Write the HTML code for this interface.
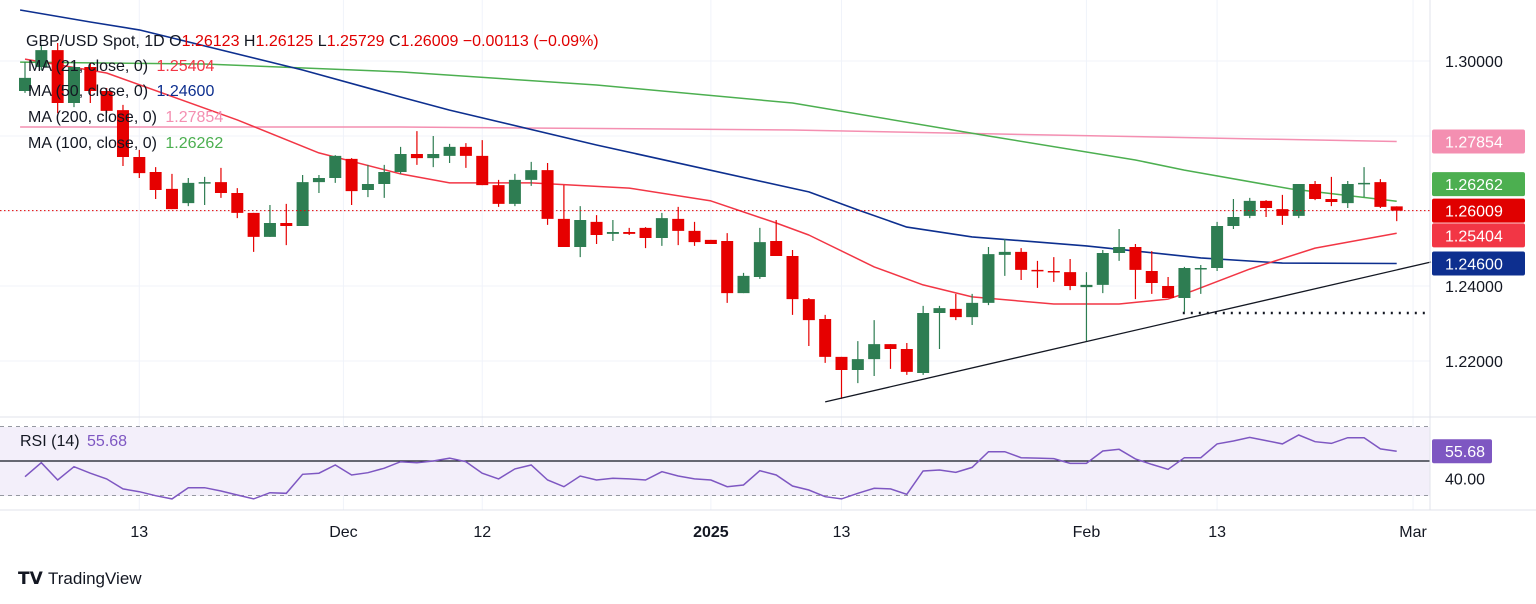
<!DOCTYPE html>
<html><head><meta charset="utf-8"><style>
html,body{margin:0;padding:0;background:#fff;}
svg{display:block;font-family:"Liberation Sans",sans-serif;}
</style></head><body>
<svg id="chart" width="1536" height="604" viewBox="0 0 1536 604">
<g id="grid"></g>
<rect x="0" y="427" width="1430" height="69" fill="#f3effa"/>
<g id="ma"></g>
<g id="candles"></g>
<g id="draw"></g>
<g id="rsi"></g>
<g id="axis"></g>
<g font-size="16">
<text x="26" y="46" fill="#131722">GBP/USD Spot, 1D <tspan fill="#131722">O</tspan><tspan fill="#e00000">1.26123</tspan> <tspan fill="#131722">H</tspan><tspan fill="#e00000">1.26125</tspan> <tspan fill="#131722">L</tspan><tspan fill="#e00000">1.25729</tspan> <tspan fill="#131722">C</tspan><tspan fill="#e00000">1.26009 −0.00113 (−0.09%)</tspan></text>
<text x="28" y="71" fill="#131722">MA (21, close, 0) <tspan fill="#f23645" dx="4">1.25404</tspan></text>
<text x="28" y="96" fill="#131722">MA (50, close, 0) <tspan fill="#0d2f8f" dx="4">1.24600</tspan></text>
<text x="28" y="122" fill="#131722">MA (200, close, 0) <tspan fill="#f48fb1" dx="4">1.27854</tspan></text>
<text x="28" y="148" fill="#131722">MA (100, close, 0) <tspan fill="#4caf50" dx="4">1.26262</tspan></text>
<text x="20" y="446" fill="#131722">RSI (14) <tspan fill="#7e57c2" dx="3">55.68</tspan></text>
</g>
<g>
<text x="18" y="584" font-size="17" font-weight="bold" fill="#131722">𝗧𝗩</text>
<text x="48" y="584" font-size="17" fill="#131722">TradingView</text>
</g>
</svg>
<script>
const opens=[1.2920,1.2984,1.3029,1.2888,1.2984,1.2920,1.2869,1.2744,1.2704,1.2659,1.2621,1.2675,1.2677,1.2648,1.2595,1.2531,1.2568,1.2560,1.2677,1.2688,1.2739,1.2656,1.2672,1.2704,1.2752,1.2741,1.2747,1.2771,1.2747,1.2669,1.2619,1.2683,1.2709,1.2579,1.2504,1.2571,1.2539,1.2544,1.2555,1.2528,1.2579,1.2547,1.2523,1.2520,1.2381,1.2424,1.2520,1.2480,1.2365,1.2312,1.2211,1.2176,1.2205,1.2245,1.2232,1.2168,1.2328,1.2339,1.2317,1.2355,1.2483,1.2491,1.2443,1.2440,1.2437,1.2397,1.2403,1.2488,1.2504,1.2440,1.2400,1.2368,1.2445,1.2448,1.2560,1.2587,1.2627,1.2605,1.2587,1.2672,1.2632,1.2621,1.2672,1.2677,1.26123];
const highs=[1.2997,1.3040,1.3048,1.2997,1.2995,1.2928,1.2883,1.2763,1.2717,1.2699,1.2688,1.2691,1.2715,1.2661,1.2595,1.2616,1.2619,1.2696,1.2696,1.2749,1.2741,1.2723,1.2723,1.2771,1.2813,1.2800,1.2779,1.2781,1.2789,1.2683,1.2699,1.2731,1.2728,1.2669,1.2613,1.2589,1.2576,1.2555,1.2557,1.2595,1.2611,1.2571,1.2523,1.2541,1.2435,1.2555,1.2576,1.2496,1.2368,1.2323,1.2211,1.2253,1.2309,1.2245,1.2248,1.2347,1.2347,1.2379,1.2379,1.2504,1.2525,1.2501,1.2467,1.2477,1.2472,1.2437,1.2496,1.2552,1.2512,1.2493,1.2424,1.2451,1.2456,1.2571,1.2632,1.2635,1.2629,1.2643,1.2672,1.2680,1.2691,1.2680,1.2717,1.2685,1.26125];
const lows=[1.2915,1.2976,1.2861,1.2877,1.2888,1.2861,1.2720,1.2688,1.2632,1.2605,1.2613,1.2616,1.2635,1.2581,1.2491,1.2531,1.2509,1.2560,1.2648,1.2675,1.2616,1.2637,1.2635,1.2699,1.2723,1.2717,1.2728,1.2715,1.2669,1.2611,1.2613,1.2667,1.2563,1.2504,1.2477,1.2512,1.2520,1.2536,1.2501,1.2507,1.2509,1.2507,1.2512,1.2355,1.2381,1.2419,1.2480,1.2323,1.2240,1.2195,1.2099,1.2141,1.2160,1.2179,1.2163,1.2163,1.2232,1.2309,1.2296,1.2349,1.2427,1.2416,1.2395,1.2411,1.2389,1.2253,1.2381,1.2467,1.2365,1.2379,1.2368,1.2331,1.2379,1.2440,1.2552,1.2581,1.2584,1.2563,1.2581,1.2629,1.2613,1.2608,1.2637,1.2608,1.25729];
const closes=[1.2955,1.3029,1.2888,1.2984,1.2920,1.2867,1.2744,1.2701,1.2656,1.2605,1.2675,1.2677,1.2648,1.2595,1.2531,1.2568,1.2560,1.2677,1.2688,1.2747,1.2653,1.2672,1.2704,1.2752,1.2741,1.2752,1.2771,1.2747,1.2669,1.2619,1.2683,1.2709,1.2579,1.2504,1.2576,1.2536,1.2544,1.2539,1.2528,1.2581,1.2547,1.2517,1.2512,1.2381,1.2427,1.2517,1.2480,1.2365,1.2309,1.2211,1.2176,1.2205,1.2245,1.2232,1.2171,1.2328,1.2341,1.2317,1.2355,1.2485,1.2491,1.2443,1.2440,1.2437,1.2400,1.2403,1.2488,1.2504,1.2443,1.2408,1.2368,1.2448,1.2448,1.2560,1.2584,1.2627,1.2608,1.2587,1.2672,1.2632,1.2624,1.2672,1.2675,1.2611,1.26009];
const rsiValues=[40.9,49.0,39.0,46.7,42.9,39.6,33.8,32.2,29.9,28.0,34.5,34.5,32.6,30.3,28.0,31.6,31.3,42.3,42.9,47.7,41.9,43.2,45.8,49.6,49.0,50.0,51.6,49.6,42.9,39.6,45.4,47.7,39.0,35.1,41.3,39.0,40.0,39.6,39.0,43.8,41.3,39.6,39.0,35.1,36.1,44.4,41.9,35.5,33.2,29.3,28.0,31.3,34.2,33.8,30.7,44.2,44.8,43.4,46.3,55.4,55.4,51.9,51.7,51.4,48.6,48.6,55.8,56.8,51.2,48.0,45.2,51.9,51.9,59.9,61.6,63.7,61.8,59.9,65.1,61.2,60.2,63.5,63.5,57.0,55.68];
const ma21Idx=[0,5,13,18,23,26,31,37,42,46,48,52,55,58,63,67,70,71.5,75,79,84];
const ma21Val=[1.3005,1.2968,1.2843,1.2755,1.2699,1.2675,1.2675,1.2661,1.2627,1.2568,1.2536,1.2451,1.2403,1.2371,1.2352,1.2352,1.2365,1.2387,1.2445,1.2501,1.25404];
const ma50Idx=[-0.3,4,7,17,23,26,35,48,51,54,58,65,72,77,84];
const ma50Val=[1.3136,1.3104,1.3083,1.2976,1.2904,1.2869,1.2776,1.2651,1.2603,1.2557,1.2531,1.2507,1.2475,1.2461,1.24600];
const ma100Idx=[-0.3,11,23,35,47,59,68,71,77.5,84];
const ma100Val=[1.2997,1.2992,1.2971,1.2936,1.2888,1.2800,1.2736,1.2709,1.2659,1.26262];
const ma200Idx=[-0.3,23,47,60,72,84];
const ma200Val=[1.2824,1.2824,1.2816,1.2805,1.2795,1.27854];
const priceTicks=[1.30,1.28,1.26,1.24,1.22];
const priceTickLabels=["1.30000","","","1.24000","1.22000"];
const dateIdx=[7,19.5,28,42,50,65,73,85];
const dateLabels=["13","Dec","12","2025","13","Feb","13","Mar"];
const trendIdx=[49,86.1];
const trendVal=[1.2091,1.2464];
const supportStartIdx=70.9;
const supportVal=1.2328;
const lastPrice=1.26009;

const NS="http://www.w3.org/2000/svg";
const X0=25,DX=16.33;
function xi(i){return X0+DX*i;}
function yp(p){return 61+(1.30-p)*3750;}
function yr(v){return 461-(v-50)*1.725;}
function mk(tag,attrs,parent){const e=document.createElementNS(NS,tag);for(const k in attrs)e.setAttribute(k,attrs[k]);parent.appendChild(e);return e;}
const gGrid=document.getElementById('grid'),gMa=document.getElementById('ma'),gC=document.getElementById('candles'),gD=document.getElementById('draw'),gR=document.getElementById('rsi'),gA=document.getElementById('axis');

priceTicks.forEach(function(p){
  const l=mk('line',{x1:0,x2:1430,y1:yp(p),y2:yp(p),stroke:'#f0f3fa','stroke-width':1},gGrid);
  
  
});
dateIdx.forEach(function(d){
  const l=mk('line',{x1:xi(d),x2:xi(d),y1:0,y2:510,stroke:'#f0f3fa','stroke-width':1},gGrid);
  
  
});

function maPath(idx,val,color,name,w){
  let d='';idx.forEach(function(i,k){d+=(k?'L':'M')+xi(i).toFixed(1)+' '+yp(val[k]).toFixed(1);});
  const p=mk('path',{d:d,fill:'none',stroke:color,'stroke-width':w,'stroke-linejoin':'round'},gMa);
  
  
}
maPath(ma200Idx,ma200Val,'#f48fb1','ma200-line',1.5);
maPath(ma100Idx,ma100Val,'#4caf50','ma100-line',1.5);
maPath(ma50Idx,ma50Val,'#0d2f8f','ma50-line',1.6);
maPath(ma21Idx,ma21Val,'#f23645','ma21-line',1.5);

const lp=mk('line',{x1:0,x2:1430,y1:yp(lastPrice),y2:yp(lastPrice),stroke:'#e00000','stroke-width':1,'stroke-dasharray':'1.5 2.5'},gD);



opens.forEach(function(o,i){
  const c=closes[i],up=c>=o,col=up?'#2e7d52':'#e60000';
  const x=xi(i);
  const w=mk('line',{x1:x,x2:x,y1:yp(highs[i]),y2:yp(lows[i]),stroke:col,'stroke-width':1.2},gC);
  
  
  const top=yp(Math.max(o,c)),bot=yp(Math.min(o,c));
  const b=mk('rect',{x:x-6,y:top,width:12,height:Math.max(1.5,bot-top),fill:col},gC);
  
  
});

const tl=mk('line',{x1:xi(trendIdx[0]),y1:yp(trendVal[0]),x2:xi(trendIdx[1]),y2:yp(trendVal[1]),stroke:'#131722','stroke-width':1.3},gD);


const sl=mk('line',{x1:xi(supportStartIdx),y1:yp(supportVal),x2:1430,y2:yp(supportVal),stroke:'#131722','stroke-width':2.5,'stroke-dasharray':'2 6'},gD);



[[70,'4 4'],[30,'4 4']].forEach(function(a){
  const l=mk('line',{x1:0,x2:1430,y1:yr(a[0]),y2:yr(a[0]),stroke:'#9598a1','stroke-width':1,'stroke-dasharray':a[1]},gR);
  
  
});
const ml=mk('line',{x1:0,x2:1430,y1:yr(50),y2:yr(50),stroke:'#131722','stroke-width':1.3},gR);


let rd='';rsiValues.forEach(function(v,i){rd+=(i?'L':'M')+xi(i).toFixed(1)+' '+yr(v).toFixed(1);});
const rp=mk('path',{d:rd,fill:'none',stroke:'#7e57c2','stroke-width':1.5},gR);



[[0,417,1536,417],[0,510,1536,510],[1430,0,1430,510]].forEach(function(s){
  const l=mk('line',{x1:s[0],y1:s[1],x2:s[2],y2:s[3],stroke:'#e0e3eb','stroke-width':1},gA);
  
  
});
priceTicks.forEach(function(p,k){
  if(!priceTickLabels[k])return;
  const t=mk('text',{x:1445,y:yp(p)+6,'font-size':16,fill:'#131722'},gA);
  t.textContent=priceTickLabels[k];
  
  
});
const tags=[[1.27854,'#f48fb1','1.27854',0],[1.26262,'#4caf50','1.26262',-17],[1.26009,'#e00000','1.26009',0],[1.25404,'#f23645','1.25404',2],[1.24600,'#0d2f8f','1.24600',0]];
tags.forEach(function(t){
  const y=yp(t[0])+t[3];
  const r=mk('rect',{x:1432,y:y-12,width:93,height:24,rx:2,fill:t[1]},gA);
  
  
  const tx=mk('text',{x:1445,y:y+6,'font-size':16,fill:'#ffffff'},gA);
  tx.textContent=t[2];
  
  
});
const rr=mk('rect',{x:1432,y:yr(55.68)-12,width:60,height:24,rx:2,fill:'#7e57c2'},gA);


const rt=mk('text',{x:1445,y:yr(55.68)+6,'font-size':16,fill:'#fff'},gA);
rt.textContent='55.68';


const r40=mk('text',{x:1445,y:yr(40)+6,'font-size':16,fill:'#131722'},gA);
r40.textContent='40.00';


dateIdx.forEach(function(d,k){
  const t=mk('text',{x:xi(d),y:537,'font-size':16,fill:'#131722','text-anchor':'middle','font-weight':dateLabels[k]==='2025'?'bold':'normal'},gA);
  t.textContent=dateLabels[k];
  
  
});
</script>
</body></html>
